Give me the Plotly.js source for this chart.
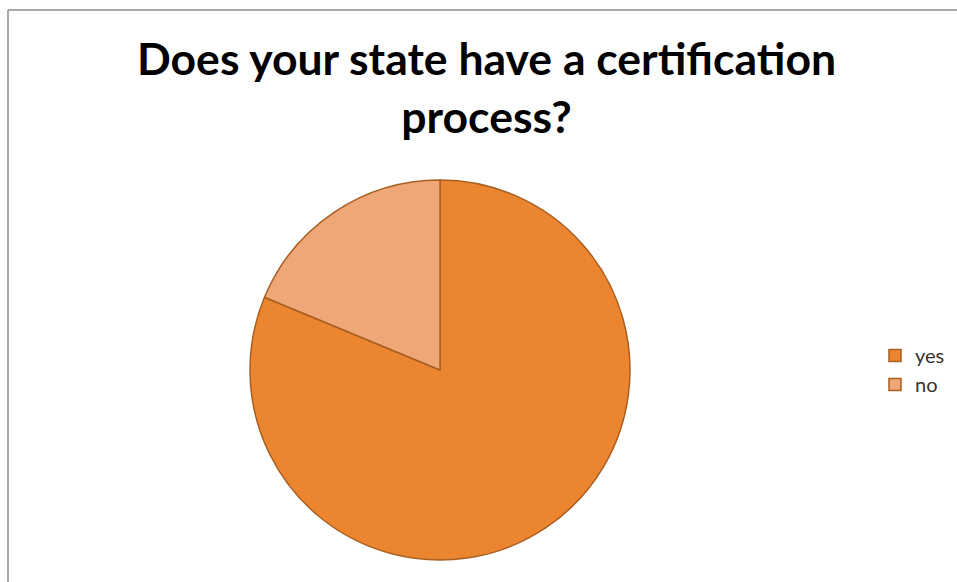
<!DOCTYPE html>
<html>
<head>
<meta charset="utf-8">
<script src="https://cdn.plot.ly/plotly-3.0.1.min.js"></script>
<style>html,body{margin:0;padding:0;background:#fff;}#chart{width:957px;height:582px;}</style>
</head>
<body>
<div id="chart"></div>
<script>
const categories = ["yes", "no"];
const values = [39, 9];
const sliceColors = ["#EB8530", "#F0A777"];
const chartTitle = "Does your state have a certification<br>process?";

const W = 957, H = 582;
const cx = 440, cy = 370, r = 190;

const trace = {
  type: "pie",
  labels: categories,
  values: values,
  sort: false,
  direction: "clockwise",
  rotation: 0,
  textinfo: "none",
  hoverinfo: "label+value+percent",
  marker: { colors: sliceColors, line: { color: "#A85F22", width: 1.5 } },
  domain: { x: [(cx - r) / W, (cx + r) / W], y: [1 - (cy + r) / H, 1 - (cy - r) / H] }
};

const layout = {
  width: W, height: H,
  margin: { l: 0, r: 0, t: 0, b: 0 },
  paper_bgcolor: "#ffffff",
  showlegend: true,
  legend: {
    x: 875 / W, xanchor: "left",
    y: 1 - 370 / H, yanchor: "middle",
    font: { family: "Lato, 'Open Sans', sans-serif", size: 20, color: "#333333" },
    bgcolor: "rgba(0,0,0,0)"
  },
  annotations: [{
    text: chartTitle,
    xref: "paper", yref: "paper",
    x: 487 / W, xanchor: "center",
    y: 1 - 29 / H, yanchor: "top",
    showarrow: false,
    align: "center",
    font: { family: "Lato, 'Open Sans', sans-serif", size: 44.5, color: "#000000", weight: "bold" }
  }],
  shapes: [
    { type: "line", xref: "paper", yref: "paper", x0: 8 / W, x1: 8 / W, y0: 0, y1: 1 - 10 / H, line: { color: "#8c8c8c", width: 1.5 } },
    { type: "line", xref: "paper", yref: "paper", x0: 8 / W, x1: 1, y0: 1 - 10 / H, y1: 1 - 10 / H, line: { color: "#8c8c8c", width: 1.5 } }
  ]
};

Plotly.newPlot("chart", [trace], layout, { displayModeBar: false, staticPlot: true });
</script>
</body>
</html>
